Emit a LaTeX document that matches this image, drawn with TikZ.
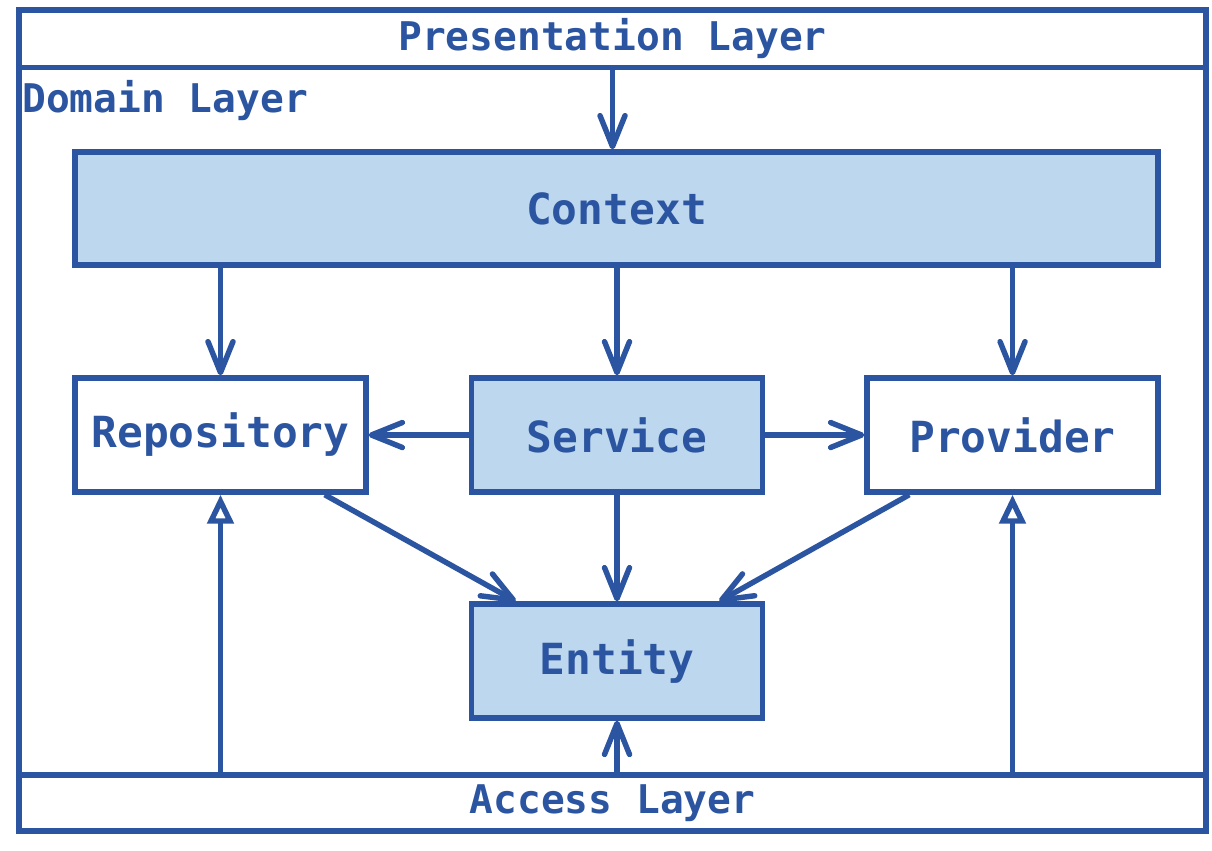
\documentclass[tikz,border=0pt]{standalone}
\usepackage{fontspec}
\setmonofont{DejaVu Sans Mono}
\usetikzlibrary{arrows.meta}
\definecolor{layerblue}{HTML}{2B55A0}
\definecolor{boxfill}{HTML}{BDD7EE}
\tikzset{
	box/.style={draw=layerblue, line width=3.1pt, minimum width=5.82cm, minimum height=2.28cm,
		text=layerblue, font=\ttfamily\bfseries\fontsize{24.4}{29}\selectfont},
	filled/.style={box, fill=boxfill},
	band/.style={draw=layerblue, line width=3.1pt, minimum width=23.74cm, inner sep=0pt,
		text=layerblue, font=\ttfamily\bfseries\fontsize{22.5}{27}\selectfont},
	uses/.style={draw=layerblue, line width=3.1pt, -{Straight Barb[length=0.62cm,width=0.5cm,round]}},
	implements/.style={draw=layerblue, line width=3.1pt, -{Triangle[open,fill=white,length=0.58cm,width=0.52cm]}}
}
\begin{document}
\begin{tikzpicture}[x=0.02cm, y=-0.02cm]
	\useasboundingbox (0,0) rectangle (1212,850);
	% layers
	\draw[layerblue, line width=3.1pt] (19,10) rectangle (1206,831);
	\node[band, minimum height=1.15cm] (pres) at (612.5,38.75) {Presentation Layer};
	\node[band, minimum height=1.12cm] (acc) at (612.5,803) {Access Layer};
	\node[anchor=base west, inner sep=0pt, text=layerblue, font=\ttfamily\bfseries\fontsize{22.5}{27}\selectfont] (dom) at (22,112) {Domain Layer};
	% components
	\node[filled, minimum width=21.66cm, minimum height=2.26cm] (ctx) at (616.5,208.5) {Context};
	\node[box] (repo) at (220.5,435) {Repository};
	\node[filled] (srv) at (617,435) {Service};
	\node[box] (prov) at (1012.5,435) {Provider};
	\node[filled] (ent) at (617,661) {Entity};
	% dependencies
	\draw[uses] (pres.south) -- (pres.south |- ctx.north);
	\foreach \n in {repo, srv, prov}
		\draw[uses] (ctx.south -| \n) -- (\n.north);
	\draw[uses] (srv.west) -- (repo.east);
	\draw[uses] (srv.east) -- (prov.west);
	\draw[uses] (srv.south) -- (ent.north);
	\draw[uses] ([xshift=-0.88cm]repo.south east) -- ([xshift=0.94cm]ent.north west);
	\draw[uses] ([xshift=0.9cm]prov.south west) -- ([xshift=-0.92cm]ent.north east);
	\draw[uses] (acc.north -| ent) -- (ent.south);
	\draw[implements] (acc.north -| repo) -- (repo.south);
	\draw[implements] (acc.north -| prov) -- (prov.south);
\end{tikzpicture}
\end{document}
